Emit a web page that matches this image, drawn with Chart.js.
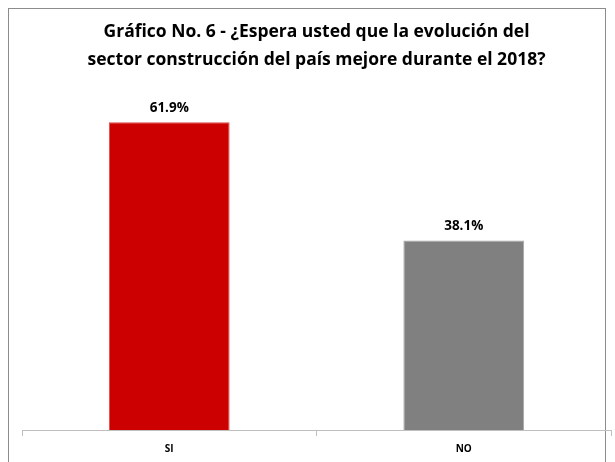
<!DOCTYPE html>
<html>
<head>
<meta charset="utf-8">
<script src="https://cdn.jsdelivr.net/npm/chart.js@4"></script>
<style>
  html, body { margin: 0; padding: 0; background: #fff; }
  #wrap { width: 615px; height: 462px; }
</style>
</head>
<body>
<div id="wrap"><canvas id="surveyChart"></canvas></div>
<script>
const categories = ['SI', 'NO'];
const percentValues = [61.9, 38.1];
const barColors = ['#CC0000', '#808080'];
const barEdgeColors = ['#E04A4A', '#A6A6A6'];
const titleLines = [
    'Gráfico No. 6 - ¿Espera usted que la evolución del',
    'sector construcción del país mejore durante el 2018?'
];

const fontFamily = '"Open Sans", sans-serif';

// frame around the whole chart, like the spreadsheet chart border
const framePlugin = {
    id: 'frame',
    beforeDraw(chart) {
        const c = chart.ctx;
        c.save();
        c.strokeStyle = '#8C8C8C';
        c.lineWidth = 1;
        c.strokeRect(8.5, 8.5, 597, 470);
        c.restore();
    }
};

// value labels above each bar
const valueLabelPlugin = {
    id: 'valueLabels',
    afterDatasetsDraw(chart) {
        const c = chart.ctx;
        const meta = chart.getDatasetMeta(0);
        c.save();
        c.font = 'bold 13.5px ' + fontFamily;
        c.fillStyle = '#000';
        c.textAlign = 'center';
        c.textBaseline = 'middle';
        meta.data.forEach((bar, i) => {
            c.fillText(percentValues[i].toFixed(1) + '%', bar.x, bar.y - 14);
        });
        c.restore();
    }
};

const ctx = document.getElementById('surveyChart').getContext('2d');
const chart = new Chart(ctx, {
    type: 'bar',
    data: {
        labels: categories,
        datasets: [{
            data: percentValues,
            backgroundColor: barColors,
            borderColor: barEdgeColors,
            borderWidth: 1,
            categoryPercentage: 1,
            barPercentage: 0.41
        }]
    },
    options: {
        responsive: true,
        maintainAspectRatio: false,
        animation: false,
        layout: {
            padding: { top: 10, left: 22, right: 4, bottom: 0 }
        },
        plugins: {
            legend: { display: false },
            tooltip: { enabled: false },
            title: {
                display: true,
                text: titleLines,
                color: '#000',
                font: { family: fontFamily, size: 17.5, weight: 'bold', lineHeight: 1.6 },
                padding: { top: 8, bottom: 8 }
            }
        },
        scales: {
            x: {
                grid: {
                    display: true,
                    drawOnChartArea: false,
                    drawTicks: true,
                    tickLength: 6,
                    color: '#BFBFBF'
                },
                border: { display: true, color: '#BFBFBF' },
                ticks: {
                    color: '#000',
                    padding: 7,
                    font: { family: fontFamily, size: 10, weight: 'bold' }
                }
            },
            y: {
                display: false,
                min: 0,
                max: 70
            }
        }
    },
    plugins: [framePlugin, valueLabelPlugin]
});
</script>
</body>
</html>
